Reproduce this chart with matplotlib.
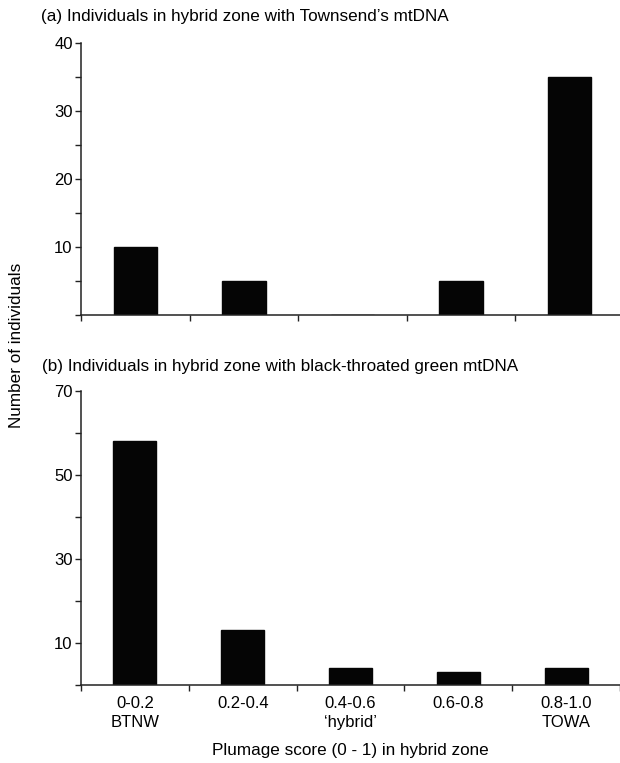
import matplotlib
matplotlib.use("Agg")
import matplotlib.pyplot as plt
from matplotlib import font_manager

# plumage score bins
bins = ["0-0.2\nBTNW", "0.2-0.4", "0.4-0.6\n\u2018hybrid\u2019", "0.6-0.8", "0.8-1.0\nTOWA"]
townsend_counts = [10, 5, 0, 5, 35]
btgw_counts = [58, 13, 4, 3, 4]

top_yticks = [0, 5, 10, 15, 20, 25, 30, 35, 40]
top_ylabels = ["", "", "10", "", "20", "", "30", "", "40"]
bot_yticks = [0, 10, 20, 30, 40, 50, 60, 70]
bot_ylabels = ["", "10", "", "30", "", "50", "", "70"]

title_a = "(a) Individuals in hybrid zone with Townsend\u2019s mtDNA"
title_b = "(b) Individuals in hybrid zone with black-throated green mtDNA"

names = {f.name for f in font_manager.fontManager.ttflist}
if "Liberation Sans Narrow" in names:
    FAMILY, FS, TFS = "Liberation Sans Narrow", 13.5, 13.5
else:
    FAMILY, FS, TFS = "Liberation Sans", 12.3, 12
plt.rcParams["font.family"] = [FAMILY, "DejaVu Sans"]

W, H = 620, 763
fig = plt.figure(figsize=(W / 100, H / 100), dpi=100)

ax_a = fig.add_axes([81 / W, 1 - 315 / H, 543 / W, 272 / H])
ax_b = fig.add_axes([81 / W, 1 - 685 / H, 539 / W, 294 / H])

xpos = [i + 0.5 for i in range(len(bins))]

for ax, counts, yt, yl, ymax in [
    (ax_a, townsend_counts, top_yticks, top_ylabels, 40),
    (ax_b, btgw_counts, bot_yticks, bot_ylabels, 70),
]:
    ax.bar(xpos, counts, width=0.4, color="#050505", edgecolor="#050505")
    ax.set_xlim(0, len(bins))
    ax.set_ylim(0, ymax)
    ax.set_yticks(yt)
    ax.set_yticklabels(yl, fontsize=TFS)
    ax.set_xticks(range(len(bins) + 1))
    ax.set_xticklabels([])
    for s in ("top", "right"):
        ax.spines[s].set_visible(False)
    for s in ("left", "bottom"):
        ax.spines[s].set_linewidth(1.1)
        ax.spines[s].set_color("#222222")
    ax.tick_params(axis="both", direction="out", length=4, width=1.0,
                   color="#222222", pad=2)

# bin labels sit between the ticks on the lower panel
ax_b.set_xticks(xpos, minor=True)
ax_b.set_xticklabels(bins, minor=True, fontsize=TFS, linespacing=1.3)
ax_b.tick_params(axis="x", which="minor", length=0, pad=8)

fig.text(41 / W, 1 - 16 / H, title_a, fontsize=FS, va="center", ha="left")
fig.text(42 / W, 1 - 366 / H, title_b, fontsize=FS, va="center", ha="left")
fig.text(17 / W, 1 - 345 / H, "Number of individuals", fontsize=FS,
         rotation=90, va="center", ha="center")
fig.text(350 / W, 1 - 750 / H, "Plumage score (0 - 1) in hybrid zone",
         fontsize=FS, va="center", ha="center")

fig.savefig("out.png", dpi=100)
